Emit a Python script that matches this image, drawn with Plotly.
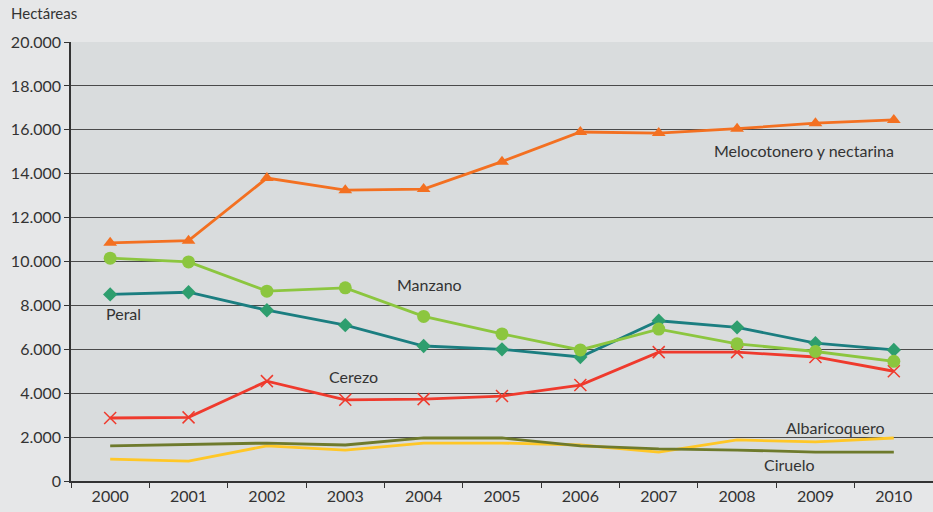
import plotly.graph_objects as go

years = ["2000", "2001", "2002", "2003", "2004", "2005", "2006", "2007", "2008", "2009", "2010"]
melocotonero = [10850, 10950, 13800, 13250, 13300, 14550, 15900, 15850, 16050, 16300, 16450]
manzano = [10150, 9980, 8650, 8800, 7500, 6700, 5970, 6920, 6250, 5900, 5450]
peral = [8500, 8600, 7780, 7100, 6150, 6000, 5650, 7300, 7000, 6280, 5970]
cerezo = [2870, 2900, 4550, 3700, 3730, 3870, 4370, 5870, 5870, 5650, 5000]
ciruelo = [1600, 1680, 1730, 1640, 1960, 1960, 1600, 1460, 1410, 1320, 1320]
albaricoquero = [1000, 910, 1600, 1410, 1730, 1730, 1640, 1320, 1870, 1780, 1960]
y_ticks = [0, 2000, 4000, 6000, 8000, 10000, 12000, 14000, 16000, 18000, 20000]
y_tick_labels = ["0", "2.000", "4.000", "6.000", "8.000", "10.000", "12.000", "14.000", "16.000", "18.000", "20.000"]

FONT = "Lato, 'Open Sans', sans-serif"
fig = go.Figure()

fig.add_trace(go.Scatter(x=years, y=albaricoquero, mode="lines", name="Albaricoquero",
                         line=dict(color="#ffc726", width=2.8)))
fig.add_trace(go.Scatter(x=years, y=ciruelo, mode="lines", name="Ciruelo",
                         line=dict(color="#6e7a2c", width=2.8)))
fig.add_trace(go.Scatter(x=years, y=cerezo, mode="lines+markers", name="Cerezo",
                         line=dict(color="#ef3a2d", width=2.8),
                         marker=dict(symbol="x-thin", size=12, line=dict(color="#ef3a2d", width=1.5))))
fig.add_trace(go.Scatter(x=years, y=peral, mode="lines+markers", name="Peral",
                         line=dict(color="#1b7e80", width=2.8),
                         marker=dict(symbol="diamond", size=11, color="#2e9e6e")))
fig.add_trace(go.Scatter(x=years, y=manzano, mode="lines+markers", name="Manzano",
                         line=dict(color="#8cc63f", width=2.8),
                         marker=dict(symbol="circle", size=13, color="#8cc63f")))
fig.add_trace(go.Scatter(x=years, y=melocotonero, mode="lines+markers", name="Melocotonero y nectarina",
                         line=dict(color="#f37021", width=2.8),
                         marker=dict(symbol="triangle-up", size=12, color="#f37021")))

labels = [
    ("Melocotonero y nectarina", 8.85, 15050),
    ("Manzano", 4.07, 8930),
    ("Peral", 0.17, 7620),
    ("Cerezo", 3.11, 4740),
    ("Albaricoquero", 9.26, 2450),
    ("Ciruelo", 8.67, 730),
]
for text, x, y in labels:
    fig.add_annotation(x=x, y=y, text=text, showarrow=False, xref="x", yref="y",
                       font=dict(family=FONT, size=16, color="#333333"))

fig.add_annotation(x=-0.072, y=1.04, xref="paper", yref="paper", xanchor="left", yanchor="bottom",
                   text="Hectáreas", showarrow=False, font=dict(family=FONT, size=15, color="#333333"))

fig.update_layout(
    width=933, height=512,
    margin=dict(l=71, r=0, t=42, b=31),
    paper_bgcolor="#e6e7e8", plot_bgcolor="#d9dcdd",
    showlegend=False,
    font=dict(family=FONT, size=16, color="#333333"),
)
fig.update_xaxes(type="category", range=[-0.5, 10.5], tickson="boundaries", ticks="outside",
                 ticklen=5, tickcolor="#333333", showgrid=False, showline=True,
                 linecolor="#333333", linewidth=1.5, tickfont=dict(size=16))
fig.update_yaxes(range=[0, 20000], tickvals=y_ticks, ticktext=y_tick_labels, ticks="outside",
                 ticklen=5, tickcolor="#333333", showgrid=True, gridcolor="#4a4a4a", gridwidth=1.2,
                 showline=True, linecolor="#333333", linewidth=1.5, zeroline=False,
                 tickfont=dict(size=16))

fig.write_html("out.html")
